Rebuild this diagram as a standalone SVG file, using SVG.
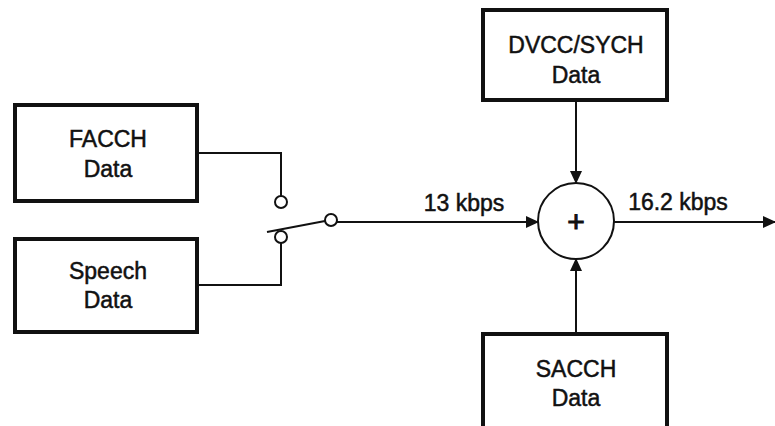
<svg xmlns="http://www.w3.org/2000/svg" width="775" height="426" viewBox="0 0 775 426">
<style>
.box{fill:#fff;stroke:#111;stroke-width:4}
.ln{fill:none;stroke:#111;stroke-width:2}
.t{font-family:"Liberation Sans",Arial,sans-serif;font-size:23px;fill:#111;stroke:#111;stroke-width:0.5;text-anchor:middle}
</style>
<defs>
<marker id="ar" markerWidth="13" markerHeight="12" refX="12" refY="6" orient="auto" markerUnits="userSpaceOnUse" viewBox="0 0 13 12">
<path d="M0,0 L13,6 L0,12 z" fill="#111"/>
</marker>
</defs>
<rect width="775" height="426" fill="#fff"/>
<g id="facch">
<rect class="box" x="15" y="105" width="182" height="96"/>
<text class="t" x="108" y="147">FACCH</text>
<text class="t" x="108" y="177">Data</text>
</g>
<g id="speech">
<rect class="box" x="15" y="239" width="182" height="93"/>
<text class="t" x="108" y="279">Speech</text>
<text class="t" x="108" y="308">Data</text>
</g>
<g id="dvcc">
<rect class="box" x="483" y="10" width="184" height="90"/>
<text class="t" x="576" y="53">DVCC/SYCH</text>
<text class="t" x="576" y="83">Data</text>
</g>
<g id="sacch">
<rect class="box" x="483" y="334" width="184" height="100"/>
<text class="t" x="576" y="377">SACCH</text>
<text class="t" x="576" y="406">Data</text>
</g>
<g id="sum">
<circle cx="576" cy="221" r="38" fill="#fff" stroke="#111" stroke-width="2"/>
<text class="t" x="576" y="232" style="font-size:30px;stroke-width:1">+</text>
</g>
<g id="switch">
<circle cx="281" cy="202" r="6" fill="#fff" stroke="#111" stroke-width="2"/>
<circle cx="281" cy="237" r="6" fill="#fff" stroke="#111" stroke-width="2"/>
<circle cx="331" cy="220" r="6" fill="#fff" stroke="#111" stroke-width="2"/>
<line class="ln" x1="267" y1="232" x2="325" y2="221"/>
</g>
<g id="connectors">
<polyline class="ln" points="197,153 281,153 281,196"/>
<polyline class="ln" points="197,285 281,285 281,243"/>
<line class="ln" x1="337" y1="222" x2="538" y2="222" marker-end="url(#ar)"/>
<line class="ln" x1="576" y1="100" x2="576" y2="183" marker-end="url(#ar)"/>
<line class="ln" x1="576" y1="334" x2="576" y2="259" marker-end="url(#ar)"/>
<line class="ln" x1="614" y1="222" x2="775" y2="222" marker-end="url(#ar)"/>
<text class="t" x="464" y="211">13 kbps</text>
<text class="t" x="678" y="210">16.2 kbps</text>
</g>
</svg>
